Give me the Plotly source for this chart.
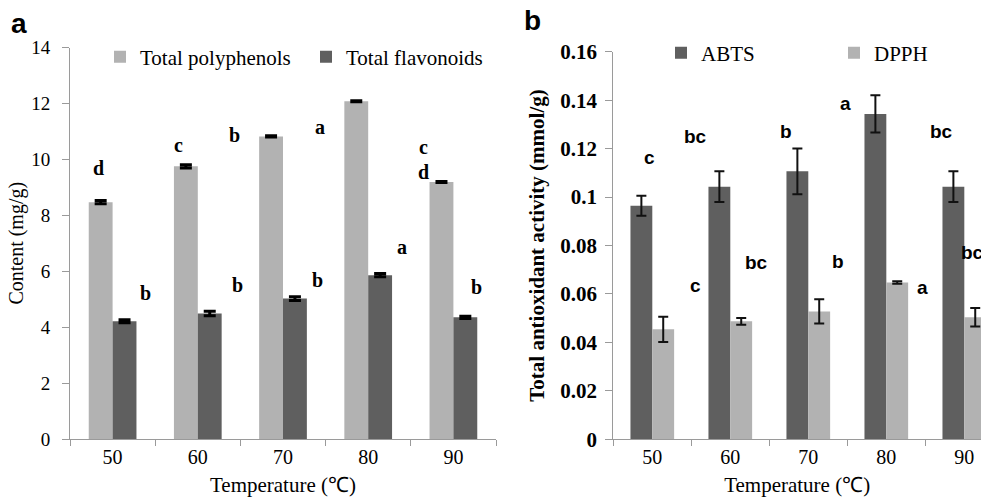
import plotly.graph_objects as go

W, H = 981, 497

temps = ["50", "60", "70", "80", "90"]

# Panel a: content (mg/g)
polyphenols = [8.47, 9.75, 10.82, 12.08, 9.19]
polyphenols_err = [0.06, 0.06, 0.02, 0.02, 0.02]
flavonoids = [4.21, 4.49, 5.02, 5.86, 4.35]
flavonoids_err = [0.05, 0.08, 0.07, 0.06, 0.04]

# Panel b: total antioxidant activity (mmol/g)
abts = [0.0964, 0.1043, 0.1106, 0.1343, 0.1043]
abts_err = [0.0041, 0.0063, 0.0094, 0.0077, 0.0063]
dpph = [0.0454, 0.0487, 0.0528, 0.0647, 0.0504]
dpph_err = [0.0052, 0.0014, 0.0050, 0.0005, 0.0038]

# significance letters: (x position in category units, y value, text)
letters_a = [(-0.16, 9.68, "d"), (0.77, 10.50, "c"), (1.425, 10.86, "b"),
             (2.43, 11.14, "a"), (3.65, 10.43, "c"), (3.65, 9.54, "d"),
             (0.39, 5.21, "b"), (1.47, 5.50, "b"), (2.41, 5.68, "b"),
             (3.40, 6.86, "a"), (4.27, 5.43, "b")]
letters_b = [(-0.03, 0.1165, "c"), (0.56, 0.1248, "bc"), (1.72, 0.1269, "b"),
             (2.48, 0.1388, "a"), (3.71, 0.1269, "bc"),
             (0.55, 0.0633, "c"), (1.34, 0.0728, "bc"), (2.38, 0.0732, "b"),
             (3.46, 0.0625, "a"), (4.10, 0.0773, "bc")]

LIGHT = "#b2b2b2"
DARK = "#5f5f5f"
AXIS = "#9a9a9a"
SERIF = "Liberation Serif"
SANS = "Liberation Sans"

fig = go.Figure()

fig.add_trace(go.Bar(x=temps, y=polyphenols, name="Total polyphenols",
                     marker=dict(color=LIGHT, line=dict(width=0)),
                     error_y=dict(type="data", array=polyphenols_err, color="black",
                                  thickness=3, width=6),
                     xaxis="x", yaxis="y", legend="legend"))
fig.add_trace(go.Bar(x=temps, y=flavonoids, name="Total flavonoids",
                     marker=dict(color=DARK, line=dict(width=0)),
                     error_y=dict(type="data", array=flavonoids_err, color="black",
                                  thickness=3, width=6),
                     xaxis="x", yaxis="y", legend="legend2"))
fig.add_trace(go.Bar(x=temps, y=abts, name="ABTS",
                     marker=dict(color=DARK, line=dict(width=0)),
                     error_y=dict(type="data", array=abts_err, color="#111111",
                                  thickness=2, width=5),
                     xaxis="x2", yaxis="y2", legend="legend3"))
fig.add_trace(go.Bar(x=temps, y=dpph, name="DPPH",
                     marker=dict(color=LIGHT, line=dict(width=0)),
                     error_y=dict(type="data", array=dpph_err, color="#111111",
                                  thickness=2, width=5),
                     xaxis="x2", yaxis="y2", legend="legend4"))

def px_x(p):
    return p / W

def px_y(p):
    return 1 - p / H

common_x = dict(type="category", showline=True, linecolor=AXIS, linewidth=1,
                ticks="outside", tickson="boundaries", ticklen=6, tickcolor=AXIS,
                showgrid=False, zeroline=False, fixedrange=True, automargin=False,
                tickfont=dict(family=SERIF, size=20, color="black"))
common_y = dict(showline=True, linecolor=AXIS, linewidth=1, ticks="outside",
                ticklen=7, tickcolor=AXIS, showgrid=False, zeroline=False,
                fixedrange=True, automargin=False)

def leg(xp, yp):
    return dict(orientation="h", x=px_x(xp), y=px_y(yp), xanchor="left",
                yanchor="middle", font=dict(family=SERIF, size=21),
                bgcolor="rgba(0,0,0,0)", borderwidth=0)

fig.update_layout(
    width=W, height=H,
    margin=dict(l=0, r=0, t=0, b=0, autoexpand=False),
    paper_bgcolor="white", plot_bgcolor="white",
    font=dict(family=SERIF, color="black"),
    barmode="group", bargap=0.44, bargroupgap=0,
    xaxis=dict(common_x, domain=[px_x(70), px_x(496)], range=[-0.5, 4.5],
               anchor="y",
               title=dict(text="Temperature (℃)", font=dict(family=SERIF, size=21),
                          standoff=14)),
    yaxis=dict(common_y, domain=[px_y(439), px_y(47.5)], range=[0, 14], dtick=2,
               anchor="x", ticklabelstandoff=8,
               tickfont=dict(family=SERIF, size=19, color="black"),
               title=dict(text="Content (mg/g)", font=dict(family=SERIF, size=20),
                          standoff=2)),
    xaxis2=dict(common_x, domain=[px_x(613.3), 1.0], range=[-0.5, 4.214],
                anchor="y2",
                title=dict(text="Temperature (℃)", font=dict(family=SERIF, size=21),
                           standoff=14)),
    yaxis2=dict(common_y, domain=[px_y(439.3), px_y(51.7)], range=[0, 0.16],
                dtick=0.02, anchor="x2", ticklabelstandoff=4,
                tickfont=dict(family=SERIF, size=21, color="black", weight="bold"),
                title=dict(text="Total antioxidant activity (mmol/g)",
                           font=dict(family=SERIF, size=21, weight="bold"),
                           standoff=9)),
    legend=leg(100, 57),
    legend2=leg(306, 57),
    legend3=leg(661, 53),
    legend4=leg(834, 53),
    showlegend=True,
)

annotations = []
for x, y, t in letters_a:
    annotations.append(dict(x=x, y=y, xref="x", yref="y", text=t, showarrow=False,
                            font=dict(family=SERIF, size=20, color="black", weight="bold")))
for x, y, t in letters_b:
    annotations.append(dict(x=x, y=y, xref="x2", yref="y2", text=t, showarrow=False,
                            font=dict(family=SANS, size=19, color="black", weight="bold")))
annotations.append(dict(x=px_x(19), y=px_y(24), xref="paper", yref="paper", text="a",
                        showarrow=False, xanchor="center", yanchor="middle",
                        font=dict(family=SANS, size=28, color="black", weight="bold")))
annotations.append(dict(x=px_x(532), y=px_y(21), xref="paper", yref="paper", text="b",
                        showarrow=False, xanchor="center", yanchor="middle",
                        font=dict(family=SANS, size=28, color="black", weight="bold")))
fig.update_layout(annotations=annotations)

fig.write_html("out.html", config={"displayModeBar": False},
               post_script="document.body.style.margin='0';document.body.style.padding='0';")
